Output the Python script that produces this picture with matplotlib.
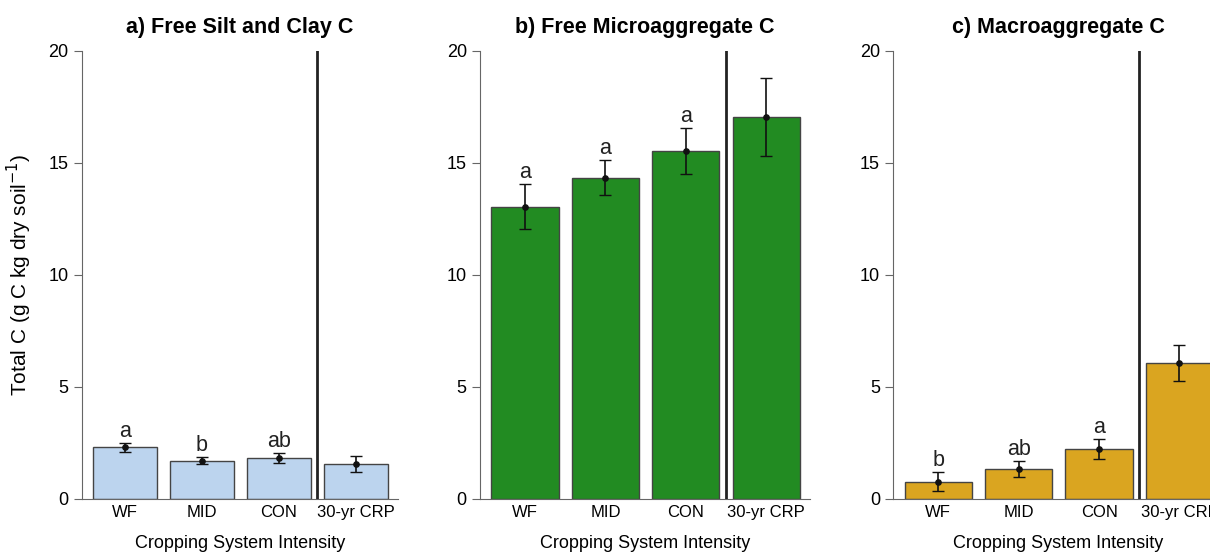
"""Total C by cropping system intensity, three soil fractions."""

import matplotlib
matplotlib.use("Agg")
import matplotlib.pyplot as plt

plt.rcParams["font.family"] = ["Liberation Sans", "DejaVu Sans"]

categories = ["WF", "MID", "CON", "30-yr CRP"]

titles = ["a) Free Silt and Clay C", "b) Free Microaggregate C", "c) Macroaggregate C"]

silt_clay = [2.29, 1.70, 1.81, 1.55]
silt_clay_err = [0.2, 0.17, 0.21, 0.34]
silt_clay_letters = ["a", "b", "ab", ""]

micro = [13.04, 14.33, 15.51, 17.05]
micro_err = [0.99, 0.79, 1.02, 1.74]
micro_letters = ["a", "a", "a", ""]

macro = [0.75, 1.33, 2.22, 6.06]
macro_err = [0.42, 0.37, 0.45, 0.8]
macro_letters = ["b", "ab", "a", ""]

colors = ["#bcd4ee", "#228b22", "#daa520"]

W, H = 1210, 552
# axes boxes in pixels: left, width
boxes = [(81.7, 316.5), (480.0, 330.4), (893.3, 330.4)]
bottom_px, top_px = 498.7, 50.7


def draw_panel(ax, vals, errs, letters, color, title):
    x = list(range(len(categories)))
    ax.bar(x, vals, width=0.837, color=color, edgecolor="#444444", linewidth=1.0, zorder=2)
    ax.errorbar(x, vals, yerr=errs, fmt="o", color="#111111", ms=3.8,
                elinewidth=1.2, capsize=4.5, capthick=1.0, zorder=3)
    for xi, v, e, lab in zip(x, vals, errs, letters):
        if lab:
            ax.text(xi, v + e + 0.27, lab, ha="center", va="baseline",
                    fontsize=15.5, color="#222222")
    ax.axvline(2.5, color="#222222", linewidth=2.0, zorder=4)
    ax.set_xlim(-0.56, 3.55)
    ax.set_ylim(0, 20)
    ax.set_yticks([0, 5, 10, 15, 20])
    ax.set_xticks(x)
    ax.set_xticklabels(categories, fontsize=12)
    ax.tick_params(axis="x", length=0, pad=4.5)
    ax.tick_params(axis="y", labelsize=13, length=5.5, color="#666666", pad=4)
    for s in ["top", "right"]:
        ax.spines[s].set_visible(False)
    ax.spines["left"].set_color("#666666")
    ax.spines["bottom"].set_color("#666666")
    ax.set_xlabel("Cropping System Intensity", fontsize=13, labelpad=11)
    ax.set_title(title, fontsize=15.5, fontweight="bold", pad=13)


fig = plt.figure(figsize=(W / 100, H / 100), dpi=100)
data = [
    (silt_clay, silt_clay_err, silt_clay_letters),
    (micro, micro_err, micro_letters),
    (macro, macro_err, macro_letters),
]
for i, ((l, w), (vals, errs, letters), color, title) in enumerate(zip(boxes, data, colors, titles)):
    ax = fig.add_axes([l / W, 1 - bottom_px / H, w / W, (bottom_px - top_px) / H])
    draw_panel(ax, vals, errs, letters, color, title)
    if i == 0:
        ax.set_ylabel("Total C (g C kg dry soil$^{-1}$)", fontsize=15, labelpad=10)

fig.savefig("out.png", dpi=100)
